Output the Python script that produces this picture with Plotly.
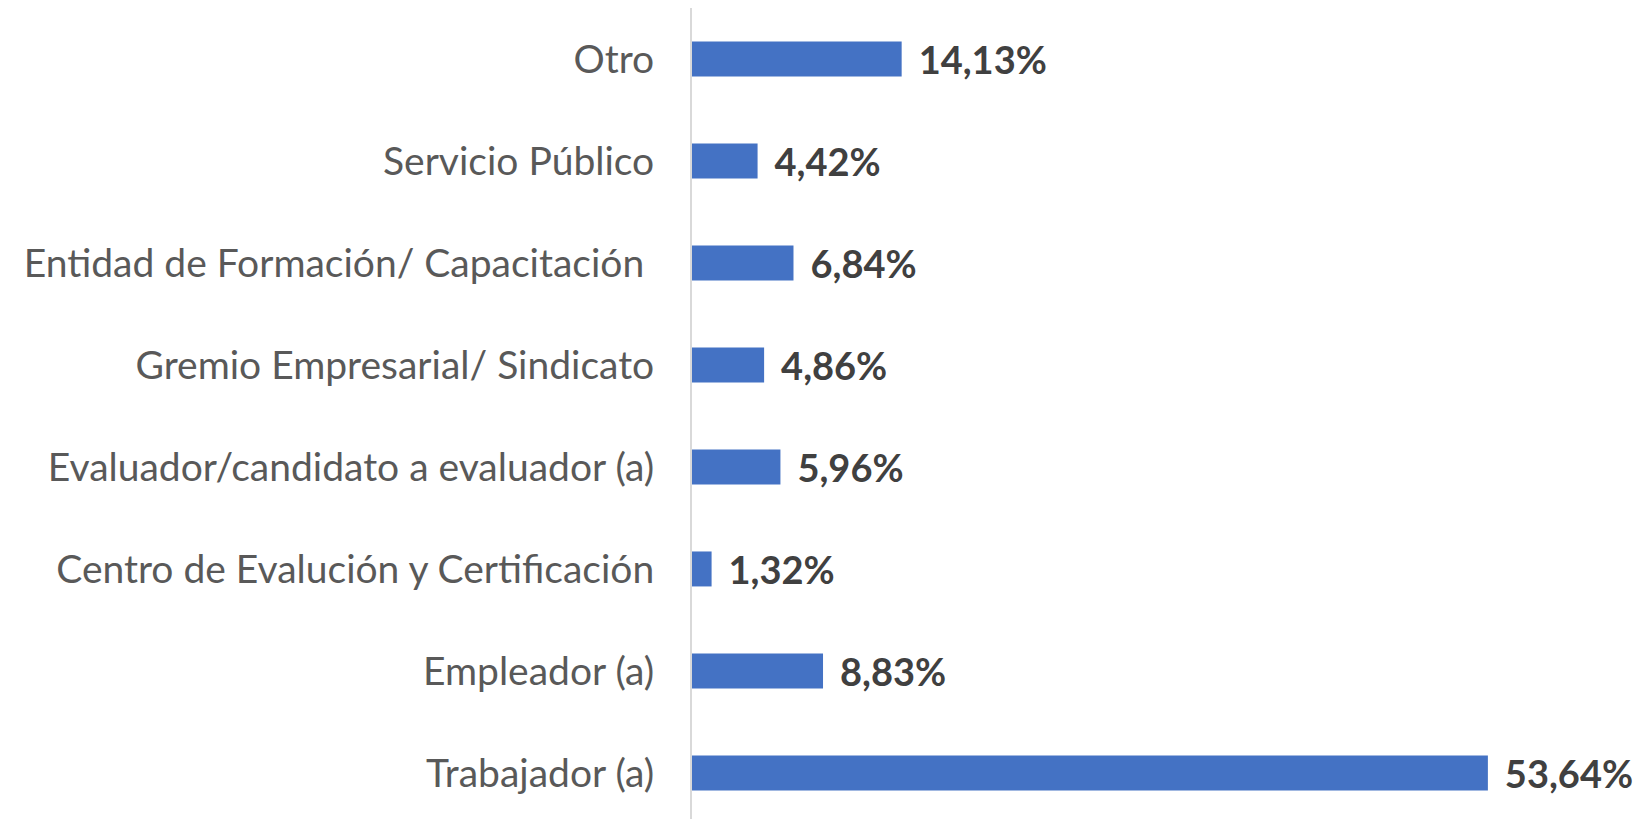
import plotly.graph_objects as go

categories = [
    "Trabajador (a)",
    "Empleador (a)",
    "Centro de Evalución y Certificación",
    "Evaluador/candidato a evaluador (a)",
    "Gremio Empresarial/ Sindicato",
    "Entidad de Formación/ Capacitación\u00a0",
    "Servicio Público",
    "Otro",
]
values = [53.64, 8.83, 1.32, 5.96, 4.86, 6.84, 4.42, 14.13]

fig = go.Figure(
    go.Bar(
        y=categories,
        x=values,
        orientation="h",
        marker=dict(color="#4472C4", line=dict(width=0)),
        texttemplate="\u00a0\u2009%{x:.2f}%",
        textposition="outside",
        constraintext="none",
        textfont=dict(family="Lato", size=38, color="#404040", weight="bold"),
        cliponaxis=False,
        width=0.343,
    )
)

fig.update_layout(
    width=1644,
    height=819,
    margin=dict(l=684, r=0, t=0, b=0),
    paper_bgcolor="white",
    plot_bgcolor="white",
    separators=",.",
    showlegend=False,
    xaxis=dict(range=[0, 64.7], visible=False, fixedrange=True),
    yaxis=dict(
        range=[-0.53, 7.5],
        showgrid=False,
        showline=True,
        linecolor="#D9D9D9",
        linewidth=2,
        ticks="",
        ticklabelstandoff=28,
        automargin=False,
        tickfont=dict(family="Lato", size=39, color="#595959"),
        zeroline=False,
    ),
)

fig.write_html("out.html")
